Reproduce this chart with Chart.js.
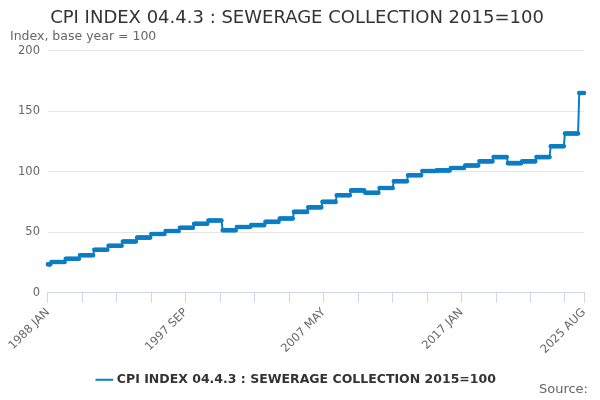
<!DOCTYPE html>
<html><head><meta charset="utf-8">
<script src="https://cdn.jsdelivr.net/npm/chart.js@4"></script>
<style>body{margin:0;background:#fff;font-family:"DejaVu Sans",sans-serif}#wrap{position:relative;width:600px;height:400px}
#src{position:absolute;right:12px;top:381px;font-size:13px;color:#666}</style></head>
<body><div id="wrap"><canvas id="c" width="600" height="400"></canvas><div id="src">Source:</div></div>
<script>
// Index level in force from each April (Jan-Mar 1988 shown separately)
const startValue = 23.4;
const years = [1988,1989,1990,1991,1992,1993,1994,1995,1996,1997,1998,1999,2000,2001,2002,2003,2004,2005,2006,2007,2008,2009,2010,2011,2012,2013,2014,2015,2016,2017,2018,2019,2020,2021,2022,2023,2024,2025];
const aprilLevels = [25.3,28,30.9,35.5,38.7,42.2,45.5,48.5,50.9,53.6,56.9,59.6,51.5,54.2,55.8,58.5,61.3,66.7,70.5,75,80.5,84.5,82.5,86.5,92,97,100.5,101,103,105,108.5,112,107,108.5,112,121,131.5,165];
const months = ['JAN','FEB','MAR','APR','MAY','JUN','JUL','AUG','SEP','OCT','NOV','DEC'];

const labels = [], values = [];
for (let y = 1988; y <= 2025; y++) {
  for (let m = 0; m < 12; m++) {
    if (y === 2025 && m > 7) break;
    labels.push(y + ' ' + months[m]);
    if (y === 1988 && m < 3) values.push(startValue);
    else values.push(aprilLevels[years.indexOf(m < 3 ? y - 1 : y)]);
  }
}
const last = labels.length - 1;

new Chart(document.getElementById('c'), {
  type: 'line',
  data: { labels, datasets: [{
    label: 'CPI INDEX 04.4.3 : SEWERAGE COLLECTION 2015=100',
    data: values, borderColor: '#0b7dc4', backgroundColor: '#0b7dc4',
    borderWidth: 2, pointRadius: 1.3, pointHoverRadius: 3, tension: 0
  }]},
  options: {
    responsive: false, animation: false,
    layout: { padding: { left: 10, right: 16, bottom: 4 } },
    plugins: {
      title: { display: true, text: 'CPI INDEX 04.4.3 : SEWERAGE COLLECTION 2015=100', color: '#333',
        font: { size: 18, weight: 'normal', family: 'DejaVu Sans' }, padding: { top: 8, bottom: 0 } },
      subtitle: { display: true, text: 'Index, base year = 100', align: 'start', color: '#666',
        font: { size: 12.5, family: 'DejaVu Sans' }, padding: { bottom: 6 } },
      legend: { position: 'bottom', labels: { usePointStyle: true, pointStyle: 'line', color: '#333',
        font: { size: 12.5, weight: 'bold', family: 'DejaVu Sans' }, padding: 14 } }
    },
    scales: {
      x: {
        afterBuildTicks: s => { s.ticks = s.ticks.filter(t => t.value % 29 === 0 || t.value === last); },
        ticks: { autoSkip: false, maxRotation: 45, minRotation: 45, color: '#666', font: { size: 11.5, family: 'DejaVu Sans' },
          callback: (v) => (v % 116 === 0 || v === last) ? labels[v] : '' },
        grid: { drawOnChartArea: false, color: '#ccd6eb', tickLength: 10 },
        border: { color: '#ccd6eb' }
      },
      y: { min: 0, max: 200, ticks: { stepSize: 50, color: '#666', padding: 8, font: { size: 11.5, family: 'DejaVu Sans' } },
        grid: { color: '#e6e6e6', drawTicks: false }, border: { display: false } }
    }
  }
});
</script></body></html>
